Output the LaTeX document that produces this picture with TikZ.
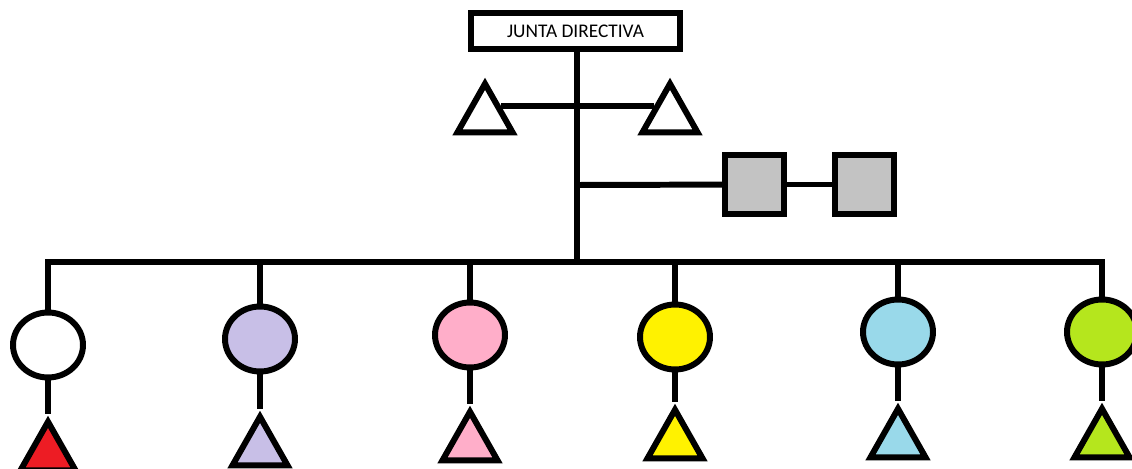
\documentclass[tikz,border=0pt]{standalone}
\usepackage{fontspec}
\setmainfont{Carlito}
\usetikzlibrary{shapes.geometric}
\definecolor{pgray}{HTML}{C3C3C3}
\definecolor{pred}{HTML}{ED1C24}
\definecolor{plav}{HTML}{C8BFE7}
\definecolor{ppink}{HTML}{FFAEC9}
\definecolor{pyel}{HTML}{FFF200}
\definecolor{pblue}{HTML}{99D9EA}
\definecolor{pgreen}{HTML}{B5E61D}
\begin{document}
\begin{tikzpicture}[x=0.02cm, y=-0.02cm, line width=3.4pt]
        \tikzstyle{board} = [shape=rectangle, draw, minimum width=4.18cm, minimum height=0.72cm,
            inner sep=0pt, font=\fontsize{11}{12}\selectfont]
        \tikzstyle{tri}   = [shape=isosceles triangle, draw, shape border rotate=90,
            isosceles triangle stretches, minimum width=1.1cm, minimum height=0.97cm,
            inner sep=0pt, anchor=apex]
        \tikzstyle{sq}    = [shape=rectangle, draw, fill=pgray, minimum size=1.18cm, inner sep=0pt]
        \tikzstyle{head}  = [shape=ellipse, draw, minimum width=1.4cm, minimum height=1.3cm, inner sep=0pt]

        \useasboundingbox (0,0) rectangle (1132,469);

        % junta directiva
        \node[board] (jd) at (575.5, 31) {JUNTA DIRECTIVA};
        \coordinate (bar)    at (577, 262);
        \coordinate (sqjoin) at (577, 185);

        \node[tri, fill=white] (lt) at (485, 76) {};
        \node[tri, fill=white] (rt) at (670, 76) {};

        \node[sq] (sq1) at (754.5, 184.5) {};
        \node[sq] (sq2) at (864.5, 184.5) {};

        \draw (bar |- jd.south) -- (bar);
        \draw (lt.right side) -- (rt.left side);
        \draw (sqjoin) -- (sq1);
        \draw (sq1) -- (sq2);

        % grupos
        \foreach \px/\py/\ty/\hc/\tc [count=\i] in {
                48/345/414/white/pred, 260/339/409/plav/plav, 470/335/404/ppink/ppink,
                675/337/402/pyel/pyel, 898/332/401/pblue/pblue, 1102/332/401/pgreen/pgreen} {
            \node[head, fill=\hc] (h\i) at (\px, \py) {};
            \node[tri,  fill=\tc] (t\i) at (\px, \ty) {};
            \draw (h\i) -- (t\i.apex);
        }

        \draw (h1.north) -- (h1.north |- bar) -- (h6.north |- bar) -- (h6.north);
        \foreach \i in {2,...,5}
            \draw (h\i.north) -- (h\i.north |- bar);

\end{tikzpicture}
\end{document}
